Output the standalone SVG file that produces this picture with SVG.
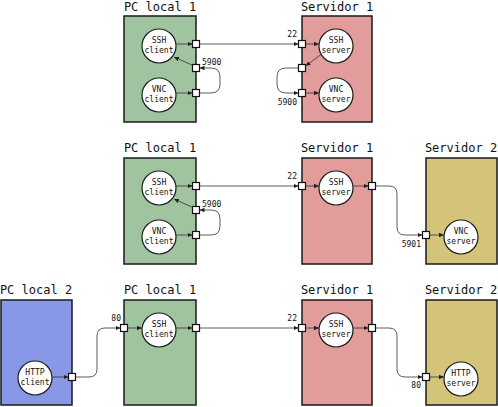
<svg xmlns="http://www.w3.org/2000/svg" width="498" height="407" viewBox="0 0 498 407">
<style>
.box{stroke:#1a1a1a;stroke-width:1.5}
.g{fill:#a0c4a0}.r{fill:#e39c9c}.y{fill:#d3c47a}.b{fill:#8898e6}
.title{font-family:"DejaVu Sans Mono",monospace;font-size:12px;fill:#111;text-anchor:middle}
.c{fill:#fff;stroke:#1a1a1a;stroke-width:1.2}
.ct{font-family:"DejaVu Sans Mono",monospace;font-size:8px;fill:#111;text-anchor:middle}
.p{fill:#fff;stroke:#111;stroke-width:1.2}
.lbl{font-family:"DejaVu Sans Mono",monospace;font-size:8px;fill:#111}
.e{text-anchor:end}
.ln{fill:none;stroke:#333;stroke-width:0.8;marker-end:url(#ah)}
</style>
<defs>
<marker id="ah" markerUnits="userSpaceOnUse" markerWidth="6" markerHeight="6" viewBox="0 0 6 6" refX="5" refY="3" orient="auto">
<path d="M0,0.7 L5,3 L0,5.3 Z" fill="#222"/>
</marker>
</defs>

<!-- ===== Top section ===== -->
<g id="pc1-a">
<text class="title" x="160" y="10.5">PC local 1</text>
<rect class="box g" x="124" y="16" width="72" height="106"/>
<rect class="p" x="192.5" y="40.5" width="7" height="7"/>
<rect class="p" x="192.5" y="64.5" width="7" height="7"/>
<rect class="p" x="192.5" y="89.5" width="7" height="7"/>
</g>
<g id="ssh-client-a"><circle class="c" cx="159" cy="46" r="17"/><text class="ct" x="159" y="43">SSH</text><text class="ct" x="159" y="53">client</text></g>
<g id="vnc-client-a"><circle class="c" cx="159" cy="95" r="17"/><text class="ct" x="159" y="92">VNC</text><text class="ct" x="159" y="102">client</text></g>

<g id="srv1-a">
<text class="title" x="337" y="10.5">Servidor 1</text>
<rect class="box r" x="302" y="16" width="70" height="106"/>
<rect class="p" x="298.5" y="40.5" width="7" height="7"/>
<rect class="p" x="298.5" y="64.5" width="7" height="7"/>
<rect class="p" x="298.5" y="89.5" width="7" height="7"/>
</g>
<g id="ssh-server-a"><circle class="c" cx="336" cy="46" r="17"/><text class="ct" x="336" y="43">SSH</text><text class="ct" x="336" y="53">server</text></g>
<g id="vnc-server-a"><circle class="c" cx="336" cy="95" r="17"/><text class="ct" x="336" y="92">VNC</text><text class="ct" x="336" y="102">server</text></g>

<!-- ===== Middle section ===== -->
<g id="pc1-b">
<text class="title" x="160" y="151.5">PC local 1</text>
<rect class="box g" x="124" y="158" width="72" height="106"/>
<rect class="p" x="192.5" y="182.5" width="7" height="7"/>
<rect class="p" x="192.5" y="206.5" width="7" height="7"/>
<rect class="p" x="192.5" y="231.5" width="7" height="7"/>
</g>
<g id="ssh-client-b"><circle class="c" cx="159" cy="188" r="17"/><text class="ct" x="159" y="185">SSH</text><text class="ct" x="159" y="195">client</text></g>
<g id="vnc-client-b"><circle class="c" cx="159" cy="237" r="17"/><text class="ct" x="159" y="234">VNC</text><text class="ct" x="159" y="244">client</text></g>

<g id="srv1-b">
<text class="title" x="337" y="151.5">Servidor 1</text>
<rect class="box r" x="302" y="158" width="70" height="106"/>
<rect class="p" x="298.5" y="182.5" width="7" height="7"/>
<rect class="p" x="368.5" y="182.5" width="7" height="7"/>
</g>
<g id="ssh-server-b"><circle class="c" cx="336" cy="188" r="17"/><text class="ct" x="336" y="185">SSH</text><text class="ct" x="336" y="195">server</text></g>

<g id="srv2-b">
<text class="title" x="461" y="151.5">Servidor 2</text>
<rect class="box y" x="426" y="158" width="71" height="106"/>
<rect class="p" x="422.5" y="231.5" width="7" height="7"/>
</g>
<g id="vnc-server-b"><circle class="c" cx="461" cy="237" r="17"/><text class="ct" x="461" y="234">VNC</text><text class="ct" x="461" y="244">server</text></g>

<!-- ===== Bottom section ===== -->
<g id="pc2-c">
<text class="title" x="36" y="293.5">PC local 2</text>
<rect class="box b" x="1" y="300" width="71" height="105"/>
<rect class="p" x="68.5" y="373.5" width="7" height="7"/>
</g>
<g id="http-client-c"><circle class="c" cx="35" cy="378" r="17"/><text class="ct" x="35" y="375">HTTP</text><text class="ct" x="35" y="385">client</text></g>

<g id="pc1-c">
<text class="title" x="160" y="293.5">PC local 1</text>
<rect class="box g" x="124" y="300" width="72" height="105"/>
<rect class="p" x="120.5" y="324.5" width="7" height="7"/>
<rect class="p" x="192.5" y="324.5" width="7" height="7"/>
</g>
<g id="ssh-client-c"><circle class="c" cx="159" cy="330" r="17"/><text class="ct" x="159" y="327">SSH</text><text class="ct" x="159" y="337">client</text></g>

<g id="srv1-c">
<text class="title" x="337" y="293.5">Servidor 1</text>
<rect class="box r" x="302" y="300" width="70" height="105"/>
<rect class="p" x="298.5" y="324.5" width="7" height="7"/>
<rect class="p" x="368.5" y="324.5" width="7" height="7"/>
</g>
<g id="ssh-server-c"><circle class="c" cx="336" cy="330" r="17"/><text class="ct" x="336" y="327">SSH</text><text class="ct" x="336" y="337">server</text></g>

<g id="srv2-c">
<text class="title" x="461" y="293.5">Servidor 2</text>
<rect class="box y" x="426" y="300" width="71" height="105"/>
<rect class="p" x="422.5" y="373.5" width="7" height="7"/>
</g>
<g id="http-server-c"><circle class="c" cx="461" cy="379" r="17"/><text class="ct" x="461" y="376">HTTP</text><text class="ct" x="461" y="386">server</text></g>

<!-- ===== Connectors ===== -->
<g id="connectors">
<!-- top -->
<path class="ln" d="M176,44 H192.5"/>
<path class="ln" d="M176,93 H192.5"/>
<path class="ln" d="M193,65.5 L174,57"/>
<path class="ln" d="M199.5,93 H211 Q220,93 220,84 V77 Q220,68 211,68 H199.5"/>
<path class="ln" d="M199.5,44 H298.5"/>
<path class="ln" d="M305.5,44 H319"/>
<path class="ln" d="M321,54.5 L305.5,66"/>
<path class="ln" d="M298.5,68 H286 Q277,68 277,77 V84 Q277,93 286,93 H298.5"/>
<path class="ln" d="M305.5,93 H319"/>
<!-- middle -->
<path class="ln" d="M176,186 H192.5"/>
<path class="ln" d="M176,235 H192.5"/>
<path class="ln" d="M193,207.5 L174,199"/>
<path class="ln" d="M199.5,235 H211 Q220,235 220,226 V219 Q220,210 211,210 H199.5"/>
<path class="ln" d="M199.5,186 H298.5"/>
<path class="ln" d="M305.5,186 H319"/>
<path class="ln" d="M353,186 H368.5"/>
<path class="ln" d="M375.5,186 H389 Q397,186 397,194 V227 Q397,235 405,235 H422.5"/>
<path class="ln" d="M429.5,235 H444"/>
<!-- bottom -->
<path class="ln" d="M52,377 H68.5"/>
<path class="ln" d="M75.5,377 H89 Q97,377 97,369 V336 Q97,328 105,328 H120.5"/>
<path class="ln" d="M127.5,328 H142"/>
<path class="ln" d="M176,328 H192.5"/>
<path class="ln" d="M199.5,328 H298.5"/>
<path class="ln" d="M305.5,328 H319"/>
<path class="ln" d="M353,328 H368.5"/>
<path class="ln" d="M375.5,328 H389 Q397,328 397,336 V369 Q397,377 405,377 H422.5"/>
<path class="ln" d="M429.5,377 H444"/>
<!-- labels -->
<text class="lbl" x="202" y="65">5900</text>
<text class="lbl e" x="297" y="37">22</text>
<text class="lbl e" x="297" y="105">5900</text>
<text class="lbl" x="202" y="207">5900</text>
<text class="lbl e" x="297" y="179">22</text>
<text class="lbl e" x="421" y="247">5901</text>
<text class="lbl e" x="121" y="321">80</text>
<text class="lbl e" x="297" y="321">22</text>
<text class="lbl e" x="421" y="388">80</text>
</g>
</svg>
